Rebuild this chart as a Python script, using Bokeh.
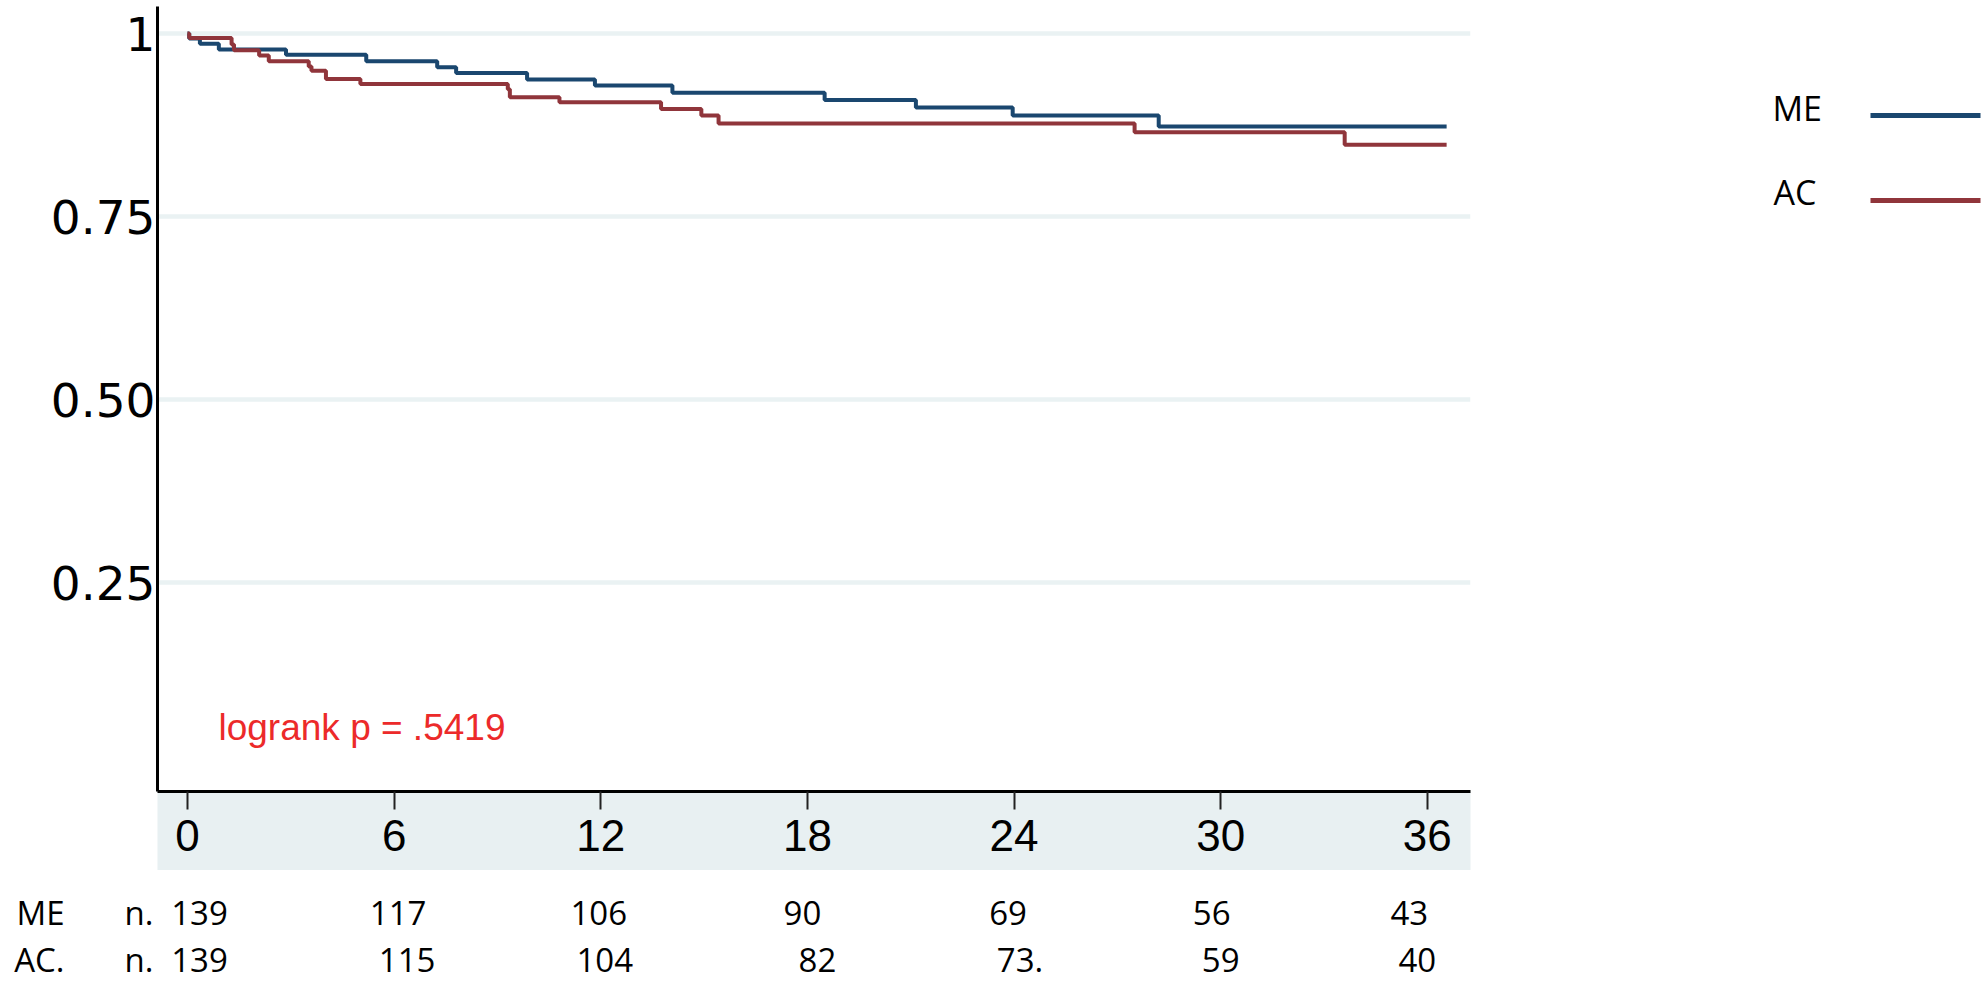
from bokeh.plotting import figure
from bokeh.layouts import row, column
from bokeh.models import Range1d, FixedTicker, LinearAxis
from bokeh.core.properties import value
from bokeh.embed import file_html
from bokeh.resources import INLINE

# ---------------- data ----------------
me_time = [0, 0.05, 0.36, 0.91, 2.86, 5.19, 7.25, 7.80, 9.86, 11.83, 14.08, 18.5, 21.15, 23.96, 28.2, 36.56]
me_surv = [1.0, 0.993, 0.986, 0.978, 0.971, 0.962, 0.954, 0.946, 0.937, 0.929, 0.919, 0.909, 0.899, 0.888, 0.873, 0.873]
ac_time = [0, 0.05, 1.28, 1.35, 2.08, 2.36, 3.52, 3.60, 4.02, 5.02, 9.30, 9.36, 10.80, 13.75, 14.92, 15.42, 27.5, 33.6, 36.56]
ac_surv = [1.0, 0.994, 0.985, 0.977, 0.970, 0.962, 0.955, 0.949, 0.938, 0.931, 0.924, 0.913, 0.906, 0.897, 0.888, 0.877, 0.865, 0.848, 0.848]

x_ticks = [0, 6, 12, 18, 24, 30, 36]
y_ticks = [0.25, 0.5, 0.75, 1.0]
y_tick_labels = {0.25: "0.25", 0.5: "0.50", 0.75: "0.75", 1.0: "1"}

risk_times = [0, 6, 12, 18, 24, 30, 36]
me_risk = ["139", "117", "106", "90", "69", "56", "43"]
ac_risk = ["139", "115", "104", "82", "73.", "59", "40"]
series_names = ["ME", "AC"]
row_names = ["ME", "AC."]
logrank_text = "logrank p = .5419"

# ---------------- style / layout ----------------
BLUE = "#1a476f"
RED = "#90353b"
GRID = "#eaf2f3"
BAND = "#e8f0f2"
PX_PER_MONTH = 34.44
FRAME_W, FRAME_H = 1313, 785
LEFT, RIGHT, TOP, BOTTOM = 157, 10, 6, 78
x0 = -30 / PX_PER_MONTH
x1 = x0 + FRAME_W / PX_PER_MONTH
PX_PER_UNIT = 732.0
y_top = 1 + (33 - TOP) / PX_PER_UNIT
y_bot = y_top - FRAME_H / PX_PER_UNIT
xr = Range1d(x0, x1)

p = figure(frame_width=FRAME_W, frame_height=FRAME_H,
           min_border_left=LEFT, min_border_right=RIGHT, min_border_top=TOP, min_border_bottom=BOTTOM,
           x_range=xr, y_range=Range1d(y_bot, y_top),
           output_backend="svg", toolbar_location=None, tools="")
p.outline_line_color = None
p.background_fill_color = "white"
p.border_fill_color = "white"

# grid
p.xgrid.grid_line_color = None
p.ygrid.ticker = FixedTicker(ticks=y_ticks)
p.ygrid.grid_line_color = GRID
p.ygrid.grid_line_width = 4.5

# y axis
p.yaxis.ticker = FixedTicker(ticks=y_ticks)
p.yaxis.major_label_overrides = y_tick_labels
p.yaxis.major_tick_out = 0
p.yaxis.major_tick_in = 0
p.yaxis.minor_tick_out = 0
p.yaxis.minor_tick_in = 0
p.yaxis.axis_line_width = 3
p.yaxis.axis_line_color = "black"
p.yaxis.major_label_text_font = "DejaVu Sans"
p.yaxis.major_label_text_font_size = "47px"
p.yaxis.major_label_text_color = "black"
p.yaxis.major_label_standoff = 2

# x axis
p.xaxis.ticker = FixedTicker(ticks=x_ticks)
p.xaxis.major_tick_out = 18
p.xaxis.major_tick_in = 0
p.xaxis.minor_tick_out = 0
p.xaxis.minor_tick_in = 0
p.xaxis.major_tick_line_width = 2
p.xaxis.major_tick_line_color = "#222222"
p.xaxis.axis_line_width = 3
p.xaxis.axis_line_color = "black"
p.xaxis.major_label_text_font = "Liberation Sans"
p.xaxis.major_label_text_font_size = "44px"
p.xaxis.major_label_text_color = "black"
p.xaxis.major_label_standoff = 10
p.xaxis.axis_label = "\u00a0"
p.xaxis.axis_label_text_font_size = "12px"
p.xaxis.axis_label_standoff = 0
try:
    p.xaxis.background_fill_color = BAND
except Exception:
    pass

p.step(me_time, me_surv, mode="after", line_color=BLUE, line_width=4)
p.step(ac_time, ac_surv, mode="after", line_color=RED, line_width=4)

p.text(x=[0.9], y=[0.052], text=[logrank_text], text_color="#ec2a2a",
       text_font=value("Liberation Sans"), text_font_size="37px",
       text_align="left", text_baseline="middle")

# ---------------- number at risk table ----------------
TAB_H = 114
t = figure(frame_width=FRAME_W, frame_height=TAB_H,
           min_border_left=LEFT, min_border_right=RIGHT, min_border_top=0, min_border_bottom=0,
           x_range=xr, y_range=Range1d(0, TAB_H), x_axis_location=None,
           output_backend="svg", toolbar_location=None, tools="")
t.grid.visible = False
t.outline_line_color = None
t.background_fill_color = "white"
t.border_fill_color = "white"

ME_Y, AC_Y = 72, 25
font_tab = value("Open Sans")
me_nudge = [12, 4, -2, -5, -6, -9, -18]
ac_nudge = [12, 13, 4, 10, 6, 0, -10]
t.text(x=risk_times, y=[ME_Y] * len(risk_times), text=me_risk, x_offset=me_nudge,
       text_font=font_tab, text_font_size="33px", text_color="black",
       text_align="center", text_baseline="middle")
t.text(x=risk_times, y=[AC_Y] * len(risk_times), text=ac_risk, x_offset=ac_nudge,
       text_font=font_tab, text_font_size="33px", text_color="black",
       text_align="center", text_baseline="middle")

def style_row_axis(ax, labels, standoff):
    ax.ticker = FixedTicker(ticks=[ME_Y, AC_Y])
    ax.major_label_overrides = {ME_Y: labels[0], AC_Y: labels[1]}
    ax.major_tick_out = 0
    ax.major_tick_in = 0
    ax.minor_tick_out = 0
    ax.minor_tick_in = 0
    ax.axis_line_color = None
    ax.major_label_standoff = standoff
    ax.major_label_text_font = "Open Sans"
    ax.major_label_text_font_size = "33px"
    ax.major_label_text_color = "black"

style_row_axis(t.yaxis[0], ["n.", "n."], 4)
outer = LinearAxis()
style_row_axis(outer, row_names, 57)
t.add_layout(outer, "left")

# ---------------- legend panel ----------------
LEG_X0 = LEFT + FRAME_W + RIGHT
LEG_W = 1985 - LEG_X0
leg = figure(frame_width=LEG_W, frame_height=FRAME_H,
             min_border_left=0, min_border_right=0, min_border_top=TOP, min_border_bottom=BOTTOM,
             x_range=Range1d(LEG_X0, 1985), y_range=Range1d(TOP + FRAME_H, TOP),
             x_axis_location=None, y_axis_location=None,
             output_backend="svg", toolbar_location=None, tools="")
leg.grid.visible = False
leg.outline_line_color = None
leg.text(x=[1772, 1773], y=[107, 191], text=series_names,
         text_font=font_tab, text_font_size="34px", text_color="black",
         text_align="left", text_baseline="middle")
leg.segment(x0=[1870, 1870], y0=[115, 200], x1=[1980, 1980], y1=[115, 200],
            line_color=[BLUE, RED], line_width=5)

layout = row(column(p, t), leg)
open("out.html", "w").write(file_html(layout, INLINE))
